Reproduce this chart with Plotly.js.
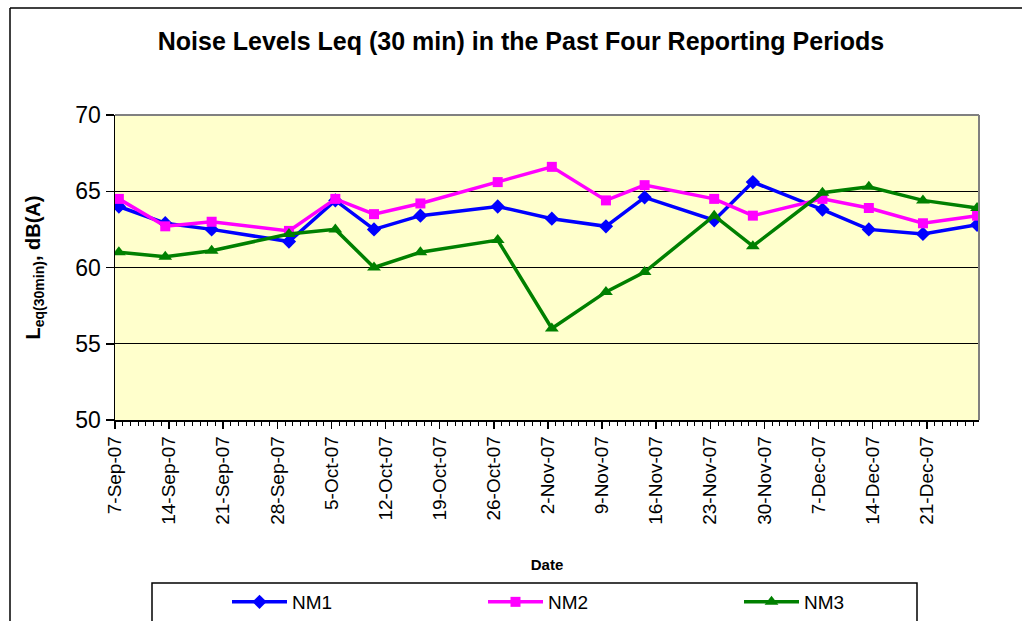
<!DOCTYPE html>
<html>
<head>
<meta charset="utf-8">
<script src="https://cdn.plot.ly/plotly-3.0.1.min.js"></script>
<style>html,body{margin:0;padding:0;background:#fff;}#chart{width:1022px;height:621px;}</style>
</head>
<body>
<div id="chart"></div>
<script>
// Sampling dates (Excel date axis: points sit in the middle of each day)
var dates = ['2007-09-07','2007-09-13','2007-09-19','2007-09-29','2007-10-05','2007-10-10',
             '2007-10-16','2007-10-26','2007-11-02','2007-11-09','2007-11-14','2007-11-23',
             '2007-11-28','2007-12-07','2007-12-13','2007-12-20','2007-12-27'];
var nm1 = [64.0, 62.9, 62.5, 61.7, 64.4, 62.5, 63.4, 64.0, 63.2, 62.7, 64.6, 63.1, 65.6, 63.8, 62.5, 62.2, 62.8];
var nm2 = [64.5, 62.7, 63.0, 62.4, 64.5, 63.5, 64.2, 65.6, 66.6, 64.4, 65.4, 64.5, 63.4, 64.5, 63.9, 62.9, 63.4];
var nm3 = [61.0, 60.7, 61.1, 62.2, 62.5, 60.0, 61.0, 61.8, 56.0, 58.4, 59.7, 63.4, 61.4, 64.9, 65.3, 64.4, 63.9];
var seriesNames = ['NM1', 'NM2', 'NM3'];
var firstTick = '2007-09-07';
var tickFormat = '%-d-%b-%y';   // e.g. 7-Sep-07
var yTicks = [50, 55, 60, 65, 70];

var FONT = 'Arial, "Liberation Sans", sans-serif';
var xs = dates.map(function (d) { return d + ' 12:00'; });

function px2x(p) { return (p - 115) / 864; }
function px2y(p) { return (420 - p) / 305; }

var traces = [
  {x: xs, y: nm1, name: seriesNames[0], type: 'scatter', mode: 'lines+markers',
   line: {color: '#0000FF', width: 3.5}, marker: {symbol: 'diamond', size: 11, color: '#0000FF'}},
  {x: xs, y: nm2, name: seriesNames[1], type: 'scatter', mode: 'lines+markers',
   line: {color: '#FF00FF', width: 3.5}, marker: {symbol: 'square', size: 10, color: '#FF00FF'}},
  {x: xs, y: nm3, name: seriesNames[2], type: 'scatter', mode: 'lines+markers',
   line: {color: '#008000', width: 3.5}, marker: {symbol: 'triangle-up', size: 12, color: '#008000'}}
];

var layout = {
  width: 1022, height: 621,
  margin: {l: 115, r: 43, t: 115, b: 201, autoexpand: false},
  paper_bgcolor: '#FFFFFF',
  plot_bgcolor: '#FFFFCC',
  showlegend: true,
  hovermode: false,
  font: {family: FONT, color: '#000000'},
  title: {
    text: 'Noise Levels Leq (30 min) in the Past Four Reporting Periods',
    font: {family: FONT, size: 25, weight: 'bold', color: '#000000'},
    x: 521 / 1022, xref: 'container', xanchor: 'center',
    y: 1 - 41 / 621, yref: 'container', yanchor: 'middle'
  },
  xaxis: {
    type: 'date',
    range: ['2007-09-07 00:00', '2007-12-27 18:00'],
    tick0: firstTick, dtick: 7 * 86400000,
    tickformat: tickFormat,
    tickangle: -90,
    tickfont: {family: FONT, size: 19, color: '#000000'},
    ticks: 'outside', ticklen: 7, tickwidth: 1.5, tickcolor: '#000000',
    minor: {dtick: 86400000, tick0: firstTick, ticks: 'outside', ticklen: 4, tickwidth: 1, tickcolor: '#000000', showgrid: false},
    showline: true, linecolor: '#000000', linewidth: 1.5,
    showgrid: false, zeroline: false,
    title: {text: 'Date', font: {family: FONT, size: 15, weight: 'bold', color: '#000000'}, standoff: 35},
    automargin: false
  },
  yaxis: {
    range: [50, 70], tickmode: 'array', tickvals: yTicks,
    tickfont: {family: FONT, size: 23, color: '#000000'},
    ticks: 'outside', ticklen: 8, tickwidth: 1.5, tickcolor: '#000000',
    showline: true, linecolor: '#000000', linewidth: 1.5,
    showgrid: true, gridcolor: '#000000', gridwidth: 1,
    zeroline: false,
    title: {text: 'L<sub>eq(30min)</sub>, dB(A)', font: {family: FONT, size: 20, weight: 'bold', color: '#000000'}, standoff: 29},
    automargin: false
  },
  legend: {
    orientation: 'h',
    x: px2x(227), xanchor: 'left',
    y: px2y(602), yanchor: 'middle',
    bgcolor: 'rgba(0,0,0,0)', borderwidth: 0,
    font: {family: FONT, size: 19, color: '#000000'},
    itemwidth: 55,
    entrywidth: 186, entrywidthmode: 'pixels'
  },
  shapes: [
    // outer chart frame: left and top edges (right/bottom run off the picture)
    {type: 'line', xref: 'paper', yref: 'paper', x0: px2x(10), x1: px2x(10), y0: px2y(630), y1: px2y(8),
     line: {color: '#000000', width: 1.5}, layer: 'below'},
    {type: 'line', xref: 'paper', yref: 'paper', x0: px2x(10), x1: px2x(1030), y0: px2y(8), y1: px2y(8),
     line: {color: '#000000', width: 1.5}, layer: 'below'},
    // plot area border top & right (grey)
    {type: 'line', xref: 'paper', yref: 'paper', x0: 0, x1: 1, y0: 1, y1: 1, line: {color: '#808080', width: 2}},
    {type: 'line', xref: 'paper', yref: 'paper', x0: 1, x1: 1, y0: 0, y1: 1, line: {color: '#808080', width: 2}},
    // legend box
    {type: 'rect', xref: 'paper', yref: 'paper', x0: px2x(152), x1: px2x(917), y0: px2y(640), y1: px2y(583),
     line: {color: '#000000', width: 1.5}, fillcolor: '#FFFFFF', layer: 'below'}
  ]
};

Plotly.newPlot('chart', traces, layout, {displayModeBar: false, staticPlot: true});
</script>
</body>
</html>
